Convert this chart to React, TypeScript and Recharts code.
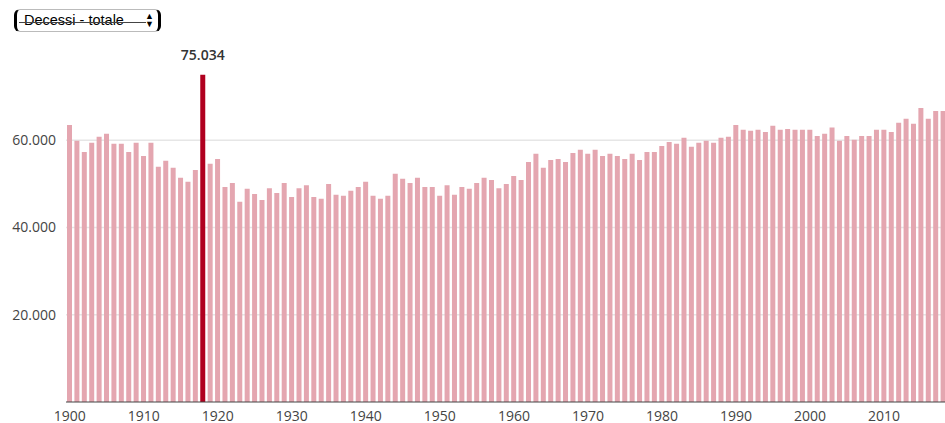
import { BarChart, Bar, XAxis, YAxis, CartesianGrid, Cell } from 'recharts';

const years = [
  1900, 1901, 1902, 1903, 1904, 1905, 1906, 1907, 1908, 1909,
  1910, 1911, 1912, 1913, 1914, 1915, 1916, 1917, 1918, 1919,
  1920, 1921, 1922, 1923, 1924, 1925, 1926, 1927, 1928, 1929,
  1930, 1931, 1932, 1933, 1934, 1935, 1936, 1937, 1938, 1939,
  1940, 1941, 1942, 1943, 1944, 1945, 1946, 1947, 1948, 1949,
  1950, 1951, 1952, 1953, 1954, 1955, 1956, 1957, 1958, 1959,
  1960, 1961, 1962, 1963, 1964, 1965, 1966, 1967, 1968, 1969,
  1970, 1971, 1972, 1973, 1974, 1975, 1976, 1977, 1978, 1979,
  1980, 1981, 1982, 1983, 1984, 1985, 1986, 1987, 1988, 1989,
  1990, 1991, 1992, 1993, 1994, 1995, 1996, 1997, 1998, 1999,
  2000, 2001, 2002, 2003, 2004, 2005, 2006, 2007, 2008, 2009,
  2010, 2011, 2012, 2013, 2014, 2015, 2016, 2017, 2018,
];

const deaths = [
  63500, 59900, 57300, 59400, 60800, 61500, 59200, 59200, 57300, 59400,
  56400, 59400, 53900, 55300, 53700, 51400, 50500, 53200, 75034, 54600,
  55700, 49300, 50200, 45900, 48900, 47700, 46300, 49000, 47900, 50200,
  47000, 49000, 49700, 47000, 46600, 50000, 47500, 47300, 48400, 49300,
  50500, 47300, 46600, 47300, 52300, 51200, 50200, 51400, 49300, 49300,
  47300, 49700, 47500, 49300, 48900, 50200, 51400, 50900, 49000, 50000,
  51800, 50900, 55000, 56900, 53700, 55500, 55700, 55000, 57100, 57800,
  56900, 57800, 56400, 56900, 56400, 55700, 56900, 55500, 57300, 57300,
  58700, 59600, 59200, 60600, 58500, 59400, 59900, 59400, 60600, 60800,
  63500, 62400, 62200, 62400, 61900, 63300, 62400, 62600, 62400, 62400,
  62400, 61000, 61500, 62900, 59900, 61000, 60100, 61000, 61000, 62400,
  62400, 61900, 64000, 64900, 63800, 67400, 64900, 66700, 66700,
];

const highlightYear = 1918;
const yTicks = [20000, 40000, 60000];

const data = years.map((year, i) => ({ year, value: deaths[i] }));

const fmt = (v: number) => String(v).replace(/\B(?=(\d{3})+(?!\d))/g, '.');

const font = "'Open Sans', sans-serif";

function PeakLabel(props: any) {
  const { x, y, width, index } = props;
  if (years[index] !== highlightYear) return null;
  return (
    <text
      x={x + width / 2}
      y={y - 15}
      textAnchor="middle"
      fill="#333"
      fontSize={14}
      fontWeight={600}
      fontFamily={font}
    >
      {fmt(deaths[index])}
    </text>
  );
}

export default function App() {
  return (
    <div style={{ position: 'absolute', left: 0, top: 0, width: 945, height: 423, overflow: 'hidden', background: '#fff', fontFamily: font }}>
      <div
        style={{
          position: 'absolute', left: 14, top: 9, width: 147, height: 23, boxSizing: 'border-box',
          border: '1px solid #bbb', borderLeft: '3px solid #000', borderRight: '3px solid #000',
          borderRadius: 6, background: '#fff', fontFamily: "'Liberation Sans', Arial, sans-serif", fontSize: 14.5,
          color: '#000', lineHeight: '20px', paddingLeft: 7,
        }}
      >
        Decessi - totale
        <div style={{ position: 'absolute', left: 2, right: 12, top: 12, height: 1, background: '#444' }} />
        <div style={{ position: 'absolute', right: 4, top: 2, fontSize: 9, lineHeight: '8px', color: '#000' }}>
          ▲<br />▼
        </div>
      </div>
      <BarChart
        width={947}
        height={423}
        data={data}
        margin={{ top: 53, right: 0, bottom: 1, left: 0 }}
        barSize={5}
      >
        <CartesianGrid horizontal vertical={false} horizontalValues={yTicks} stroke="#e6e6e6" strokeWidth={1.5} />
        <XAxis
          dataKey="year"
          interval={9}
          height={20}
          tickLine={false}
          axisLine={{ stroke: '#444' }}
          tickMargin={3}
          tick={{ fill: '#444', fontSize: 14, fontFamily: font }}
        />
        <YAxis
          width={66}
          domain={[0, 80000]}
          ticks={yTicks}
          tickLine={false}
          axisLine={false}
          tickMargin={4}
          tickFormatter={fmt}
          tick={{ fill: '#444', fontSize: 14, fontFamily: font }}
        />
        <Bar dataKey="value" isAnimationActive={false} label={<PeakLabel />}>
          {data.map((d) => (
            <Cell key={d.year} fill={d.year === highlightYear ? '#b0001f' : '#e4a6b0'} />
          ))}
        </Bar>
      </BarChart>
    </div>
  );
}
